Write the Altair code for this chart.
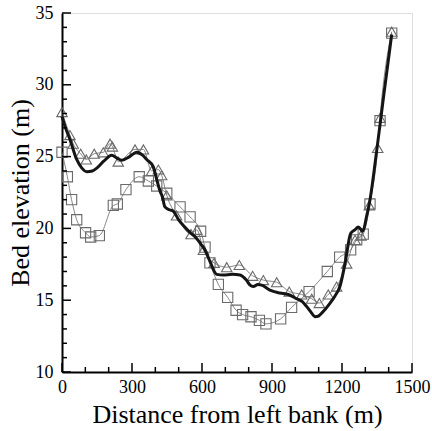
import altair as alt
import pandas as pd

# Squares series
sq_x = [0, 23, 41, 63, 101, 123, 160, 220, 237, 274, 331, 370, 406, 449, 506, 549, 594, 613, 634, 670,
        710, 746, 774, 810, 846, 874, 937, 984, 1059, 1137, 1190, 1237, 1263, 1291, 1320, 1363, 1413]
sq_y = [25.3, 23.6, 22.0, 20.6, 19.7, 19.4, 19.5, 21.6, 21.7, 22.7, 23.6, 23.3, 22.95, 22.45, 21.5, 20.8, 19.8, 18.7, 17.6, 16.1,
        15.2, 14.3, 14.0, 13.85, 13.6, 13.35, 13.7, 14.5, 15.6, 17.0, 18.0, 18.5, 19.2, 19.6, 21.7, 27.5, 33.6]

# Triangles series
tr_x = [0, 34, 48, 80, 104, 138, 177, 206, 216, 241, 313, 349, 384, 413, 427, 449, 491, 553, 578, 606, 652,
        706, 760, 817, 863, 920, 974, 1027, 1070, 1103, 1141, 1177, 1220, 1256, 1281, 1317, 1353, 1363, 1413]
tr_y = [28.1, 26.5, 25.9, 25.2, 24.8, 25.2, 25.3, 25.9, 25.7, 24.65, 25.5, 25.5, 24.0, 24.1, 23.7, 22.3, 20.9, 19.6, 19.9, 18.5, 17.6,
        17.3, 17.45, 16.7, 16.4, 16.25, 15.6, 15.4, 15.1, 14.8, 15.4, 15.95, 17.55, 19.2, 19.5, 21.6, 25.6, 27.7, 33.7]

# Thick line series
th_x = [0, 15, 34, 63, 85, 106, 130, 149, 180, 213, 235, 256, 290, 320, 345, 363, 391, 406, 420, 430, 441, 460, 477,
        500, 520, 550, 577, 600, 613, 634, 663, 691, 730, 763, 790, 806, 820, 840, 856, 891, 934, 970, 1006, 1030,
        1049, 1070, 1084, 1100, 1113, 1149, 1170, 1191, 1213, 1237, 1255, 1270, 1289, 1305, 1320, 1349, 1380, 1413]
th_y = [27.8, 27.0, 26.2, 24.8, 24.2, 23.95, 24.0, 24.2, 24.7, 25.1, 24.9, 24.75, 25.0, 25.3, 25.1, 24.8, 24.3, 23.4, 22.6, 22.2, 21.5, 21.3, 21.2,
        20.6, 20.2, 19.7, 19.3, 18.8, 18.5, 17.7, 16.8, 16.75, 16.8, 16.75, 16.4, 16.05, 15.95, 16.1, 16.05, 15.7, 15.5, 15.4, 15.1, 14.9,
        14.55, 14.1, 13.85, 13.9, 14.1, 14.8, 15.3, 15.95, 17.55, 19.65, 19.9, 20.1, 19.8, 20.8, 22.0, 25.45, 29.4, 33.5]

x_major = [0, 300, 600, 900, 1200, 1500]
x_minor = [100, 200, 400, 500, 700, 800, 1000, 1100, 1300, 1400]
y_major = [10, 15, 20, 25, 30, 35]
y_minor = [v for v in range(11, 35) if v % 5 != 0]

FONT = "Liberation Serif"
W, H = 350, 359
GRAY = "#6a6a6a"

xs = alt.Scale(domain=[0, 1500], nice=False, zero=False)
ys = alt.Scale(domain=[10, 35], nice=False, zero=False)

xaxis = alt.Axis(values=x_major, format="d", ticks=False, grid=False, domainColor="black", domainWidth=2,
                 labelFont=FONT, labelFontSize=18, labelColor="black", labelPadding=6, labelFlush=False,
                 labelOverlap=False,
                 title="Distance from left bank (m)", titleFont=FONT, titleFontSize=26, titleFontWeight="normal",
                 titleColor="black", titleBaseline="alphabetic", titleY=50)
yaxis = alt.Axis(values=y_major, format="d", ticks=False, grid=False, domainColor="black", domainWidth=2,
                 labelFont=FONT, labelFontSize=18, labelColor="black", labelPadding=9, labelFlush=False,
                 labelOverlap=False,
                 title="Bed elevation (m)", titleFont=FONT, titleFontSize=26, titleFontWeight="normal",
                 titleColor="black", titleBaseline="alphabetic", titleX=-34, titleY=H / 2)

df_sq = pd.DataFrame({"x": sq_x, "y": sq_y})
df_tr = pd.DataFrame({"x": tr_x, "y": tr_y})
df_th = pd.DataFrame({"x": th_x, "y": th_y})

X = alt.X("x:Q", scale=xs, axis=xaxis)
Y = alt.Y("y:Q", scale=ys, axis=yaxis)
Xn = alt.X("x:Q", scale=xs)
Yn = alt.Y("y:Q", scale=ys)

sq_line = alt.Chart(df_sq).mark_line(color=GRAY, strokeWidth=0.8, interpolate="monotone").encode(x=X, y=Y)
sq_pts = alt.Chart(df_sq).mark_point(shape="square", filled=False, size=105, color=GRAY, strokeWidth=1.1, opacity=1).encode(x=Xn, y=Yn)
tr_line = alt.Chart(df_tr).mark_line(color=GRAY, strokeWidth=0.8, interpolate="monotone").encode(x=Xn, y=Yn)
tr_pts = alt.Chart(df_tr).mark_point(shape="triangle-up", filled=False, size=110, color=GRAY, strokeWidth=1.1, opacity=1).encode(x=Xn, y=Yn)
th_line = alt.Chart(df_th).mark_line(color="#151515", strokeWidth=3, interpolate="monotone").encode(x=Xn, y=Yn)

def xticks(vals, length):
    return alt.Chart(pd.DataFrame({"x": vals})).mark_rule(color="black", strokeWidth=1.5).encode(
        x=Xn, y=alt.value(H), y2=alt.value(H - length))

def yticks(vals, length):
    return alt.Chart(pd.DataFrame({"y": vals})).mark_rule(color="black", strokeWidth=1.5).encode(
        y=Yn, x=alt.value(0), x2=alt.value(length))

chart = alt.layer(
    sq_line, tr_line, sq_pts, tr_pts, th_line,
    xticks(x_major, 9), xticks(x_minor, 5), yticks(y_major, 9), yticks(y_minor, 5),
).properties(
    width=W, height=H,
    autosize=alt.AutoSizeParams(type="none"),
    padding={"left": 62, "top": 13, "right": 20, "bottom": 59},
).configure_view(stroke=None).configure(background="white", font=FONT).configure_axis(
    labelFont=FONT, titleFont=FONT, labelFontSize=18, titleFontSize=26
)

chart.save("out.html", embed_options={"renderer": "svg", "actions": False})
